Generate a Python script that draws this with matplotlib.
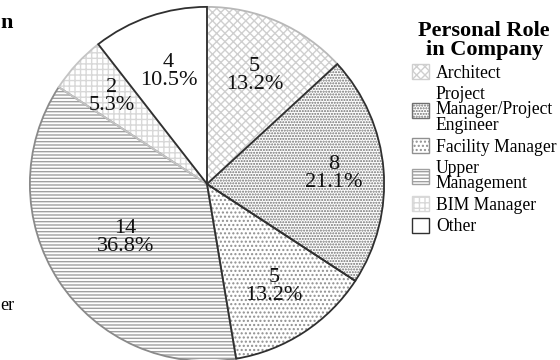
import matplotlib
matplotlib.use("Agg")
import matplotlib.pyplot as plt
from matplotlib.patches import Patch
import numpy as np

plt.rcParams['font.family'] = ['Liberation Serif', 'DejaVu Serif']
plt.rcParams['hatch.linewidth'] = 1.0

roles = ["Architect", "Project\nManager/Project\nEngineer", "Facility Manager",
         "Upper\nManagement", "BIM Manager", "Other"]
counts = [5, 8, 5, 14, 2, 4]
pcts = ["13.2%", "21.1%", "13.2%", "36.8%", "5.3%", "10.5%"]

hatches = ["xxxx", "......", "....", "-----", "+++", ""]
hatch_colors = ["#cfcfcf", "#707070", "#909090", "#a0a0a0", "#d8d8d8", "#ffffff"]
edge_colors = ["#b8b8b8", "#303030", "#303030", "#8a8a8a", "#c4c4c4", "#303030"]
label_radius = [0.67, 0.72, 0.69, 0.55, 0.73, 0.67]

W, H = 560, 360
fig = plt.figure(figsize=(W / 100, H / 100), dpi=100)
cx, cy, r = 207, 184, 178
ax = fig.add_axes([(cx - r) / W, (H - cy - r) / H, 2 * r / W, 2 * r / H])

# hatched fills
fills, _ = ax.pie(counts, startangle=90, counterclock=False, radius=1,
                  wedgeprops=dict(linewidth=0))
for w, h, hc in zip(fills, hatches, hatch_colors):
    w.set_facecolor("white")
    w.set_hatch(h)
    w.set_edgecolor(hc)
    w.set_linewidth(0)

# outlines, darker ones drawn on top
outl, _ = ax.pie(counts, startangle=90, counterclock=False, radius=1,
                 wedgeprops=dict(fill=False, linewidth=1.3))
for w, ec in zip(outl, edge_colors):
    w.set_edgecolor(ec)
    w.set_zorder(3 if ec == "#303030" else 2.5)

ax.set_xlim(-1.005, 1.005)
ax.set_ylim(-1.005, 1.005)
ax.set_aspect('equal')
ax.axis('off')

for w, n, p, rr in zip(fills, counts, pcts, label_radius):
    ang = np.deg2rad((w.theta1 + w.theta2) / 2)
    ax.text(rr * np.cos(ang), rr * np.sin(ang), f"{n}\n{p}", ha='center', va='center',
            fontsize=16, linespacing=0.95, zorder=5, color="#111111")

# legend
handles = []
for h, hc in zip(hatches, hatch_colors):
    handles.append(Patch(facecolor="white", hatch=h, edgecolor=hc if h else "#303030",
                         linewidth=1.0))
leg = fig.legend(handles, roles, loc='upper left', bbox_to_anchor=(412 / W, 1 - 21 / H),
                 frameon=False, fontsize=12.7, title="Personal Role\nin Company",
                 title_fontproperties=dict(size=16, weight='bold'),
                 handlelength=0.95, handleheight=0.95, handletextpad=0.4,
                 labelspacing=0.22, borderaxespad=0, borderpad=0)
leg.get_title().set_multialignment('center')
leg.get_title().set_linespacing(0.95)
for t in leg.get_texts():
    t.set_linespacing(0.9)

fig.text(0, 1 - 28 / H, "n", ha='left', va='baseline', fontsize=16, weight='bold')
fig.text(0, 1 - 310 / H, "er", ha='left', va='baseline', fontsize=13)

fig.savefig("out.png", dpi=100)
